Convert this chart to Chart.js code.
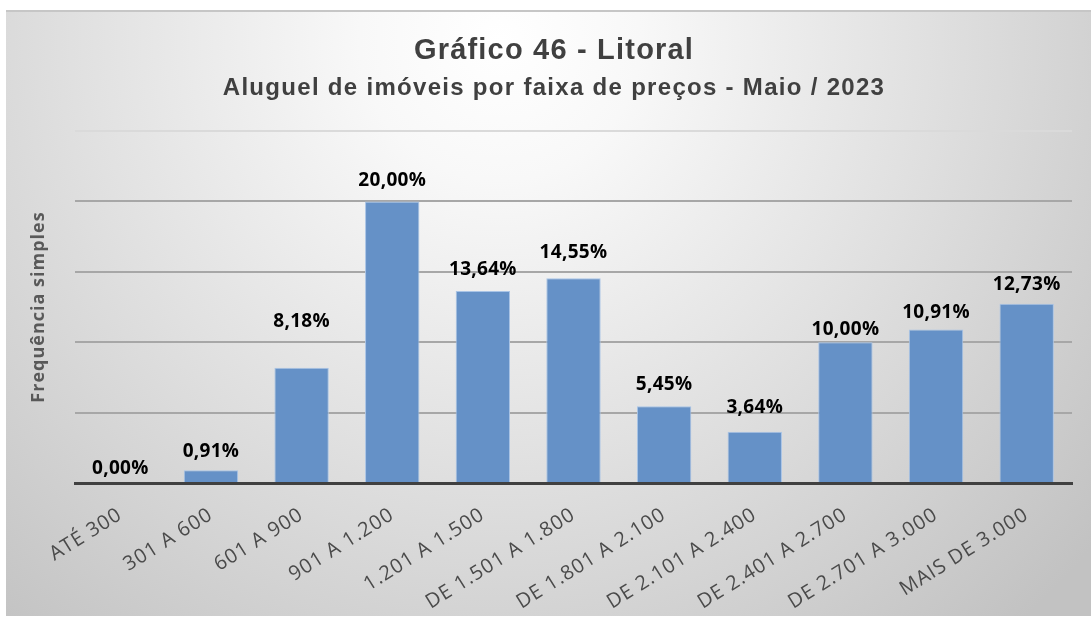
<!DOCTYPE html>
<html lang="pt-BR">
<head>
<meta charset="utf-8">
<title>Gráfico 46 - Litoral</title>
<script src="https://cdn.jsdelivr.net/npm/chart.js@4.4.1/dist/chart.umd.min.js"></script>
<style>
  html, body { margin: 0; padding: 0; background: #ffffff; overflow: hidden; }
  #wrap { position: relative; width: 1091px; height: 617px; }
</style>
</head>
<body>
<div id="wrap"><canvas id="chart"></canvas></div>
<script>
// ---- data ----
const categories = [
  'ATÉ 300', '301 A 600', '601 A 900', '901 A 1.200', '1.201 A 1.500',
  'DE 1.501 A 1.800', 'DE 1.801 A 2.100', 'DE 2.101 A 2.400',
  'DE 2.401 A 2.700', 'DE 2.701 A 3.000', 'MAIS DE 3.000'
];
const frequencia = [0.00, 0.91, 8.18, 20.00, 13.64, 14.55, 5.45, 3.64, 10.00, 10.91, 12.73];
const yTickValues = [0, 5, 10, 15, 20, 25];

const chartTitle = 'Gráfico 46 - Litoral';
const chartSubtitle = 'Aluguel de imóveis por faixa de preços - Maio / 2023';
const yAxisTitle = 'Frequência simples';

// ---- helpers ----
const pct = v => v.toFixed(2).replace('.', ',') + '%';

// Panel background: soft radial gradient, light top frame line
const panelBackground = {
  id: 'panelBackground',
  beforeDraw(chart) {
    const { ctx, width, height } = chart;
    ctx.save();
    ctx.fillStyle = '#ffffff';
    ctx.fillRect(0, 0, width, height);
    const g = ctx.createRadialGradient(500, 40, 0, 500, 40, 780);
    g.addColorStop(0, '#ffffff');
    g.addColorStop(0.18, '#f8f8f8');
    g.addColorStop(0.55, '#e0e0e0');
    g.addColorStop(1, '#c2c2c2');
    ctx.fillStyle = g;
    ctx.fillRect(6, 10, width - 6, height - 11);
    ctx.fillStyle = '#c6c6c6';
    ctx.fillRect(6, 10, width - 6, 2);
    ctx.restore();
    // axis texts get a little letter spacing
    ctx.letterSpacing = '1px';
  }
};

// Title and subtitle
const headerText = {
  id: 'headerText',
  afterDraw(chart) {
    const { ctx } = chart;
    ctx.save();
    ctx.fillStyle = '#404040';
    ctx.textAlign = 'center';
    ctx.textBaseline = 'alphabetic';
    ctx.letterSpacing = '1.2px';
    ctx.font = 'bold 29px "Liberation Sans", Arial, sans-serif';
    ctx.fillText(chartTitle, 554, 59);
    ctx.letterSpacing = '1.3px';
    ctx.font = 'bold 24px "Liberation Sans", Arial, sans-serif';
    ctx.fillText(chartSubtitle, 554, 95);
    ctx.restore();
  }
};

// Value labels above each bar
const barValueLabels = {
  id: 'barValueLabels',
  afterDatasetsDraw(chart, args, opts) {
    const { ctx } = chart;
    const meta = chart.getDatasetMeta(0);
    const values = chart.data.datasets[0].data;
    ctx.save();
    ctx.letterSpacing = '0.3px';
    ctx.font = 'bold 19px "Open Sans", sans-serif';
    ctx.fillStyle = '#000000';
    ctx.textAlign = 'center';
    ctx.textBaseline = 'middle';
    meta.data.forEach((bar, i) => {
      const gap = opts.gaps[i] ?? 20;
      ctx.fillText(pct(values[i]), bar.x, bar.y - gap);
    });
    ctx.restore();
  }
};

new Chart(document.getElementById('chart'), {
  type: 'bar',
  data: {
    labels: categories,
    datasets: [{
      label: yAxisTitle,
      data: frequencia,
      backgroundColor: '#6591c7',
      borderColor: '#a9c4e6',
      borderWidth: 1,
      borderSkipped: 'start',
      barPercentage: 0.6,
      categoryPercentage: 1.0
    }]
  },
  options: {
    responsive: true,
    maintainAspectRatio: false,
    devicePixelRatio: 1,
    animation: false,
    layout: { padding: { left: 5, right: 19, top: 131, bottom: 0 } },
    plugins: {
      legend: { display: false },
      tooltip: { enabled: false },
      barValueLabels: { gaps: [14, 19, 46, 21, 21, 26, 22, 24, 13, 17, 19] }
    },
    scales: {
      x: {
        grid: { display: false, drawTicks: false },
        border: { display: true, color: '#404040', width: 3 },
        ticks: {
          color: '#4a4a4a',
          font: { family: '"Open Sans", sans-serif', size: 20 },
          minRotation: 32,
          maxRotation: 32,
          autoSkip: false,
          padding: 20
        },
        afterFit(scale) { scale.height = 134; }
      },
      y: {
        min: 0,
        max: 25,
        afterBuildTicks(scale) { scale.ticks = yTickValues.map(v => ({ value: v })); },
        ticks: { display: false },
        border: { display: false },
        grid: {
          drawTicks: false,
          lineWidth: 2,
          color: c => c.tick.value === 0 ? 'rgba(0,0,0,0)'
                    : c.tick.value === 25 ? '#dadada' : '#a7a7a7'
        },
        title: {
          display: true,
          text: yAxisTitle,
          color: '#595959',
          font: { family: '"Open Sans", sans-serif', size: 18, weight: 'bold' },
          padding: { top: 23, bottom: 0 }
        },
        afterFit(scale) { scale.width = 70; }
      }
    }
  },
  plugins: [panelBackground, barValueLabels, headerText]
});
</script>
</body>
</html>
